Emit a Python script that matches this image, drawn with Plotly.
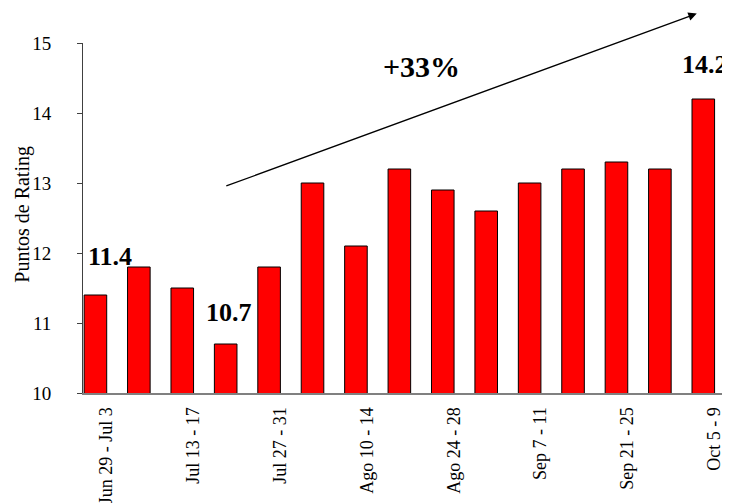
import plotly.graph_objects as go

categories = [
    "Jun 29 - Jul 3", "Jul 6 - 10", "Jul 13 - 17", "Jul 20 - 24", "Jul 27 - 31",
    "Ago 3 - 7", "Ago 10 - 14", "Ago 17 - 21", "Ago 24 - 28", "Ago 31 - Sep 4",
    "Sep 7 - 11", "Sep 14 - 18", "Sep 21 - 25", "Sep 28 - Oct 2", "Oct 5 - 9",
]
rating = [11.4, 11.8, 11.5, 10.7, 11.8, 13.0, 12.1, 13.2, 12.9, 12.6, 13.0, 13.2, 13.3, 13.2, 14.2]
y_ticks = [10, 11, 12, 13, 14, 15]
growth_label = "+33%"

FONT = "Liberation Serif, Times New Roman, serif"
idx = list(range(len(categories)))
shown = idx[::2]

fig = go.Figure()
fig.add_trace(go.Bar(
    x=idx, y=rating, width=0.52,
    marker=dict(color="#FF0000", line=dict(color="#000000", width=1)),
    hoverinfo="x+y",
))

fig.update_layout(
    width=722, height=495,
    margin=dict(l=75, r=0, t=35, b=110),
    paper_bgcolor="white", plot_bgcolor="white",
    showlegend=False,
    font=dict(family=FONT, color="black", size=18),
    xaxis=dict(
        range=[-0.286, 14.615],
        tickmode="array", tickvals=shown, ticktext=[categories[i] for i in shown],
        tickangle=-90, ticks="", showgrid=False, zeroline=False,
        showline=True, linecolor="#808080", linewidth=2,
        tickfont=dict(family=FONT, size=18, color="black"),
        ticklabelshift=11, ticklabelstandoff=5,
    ),
    yaxis=dict(
        range=[10, 15], tickmode="array", tickvals=y_ticks,
        ticks="outside", ticklen=5, tickcolor="#404040",
        showgrid=False, zeroline=False,
        showline=True, linecolor="#404040", linewidth=1,
        tickfont=dict(family=FONT, size=19, color="black"),
        ticklabelstandoff=22,
    ),
)

fig.add_annotation(xref="paper", yref="paper", x=-0.094, y=0.51,
                   text="Puntos de Rating", textangle=-90, showarrow=False,
                   font=dict(family=FONT, size=20, color="black"),
                   xanchor="center", yanchor="middle")

bold = dict(family=FONT, size=26, color="black")
fig.add_annotation(x=0.34, y=11.95, text=f"<b>{rating[0]:.1f}</b>", showarrow=False, font=bold)
fig.add_annotation(x=3.08, y=11.15, text=f"<b>{rating[3]:.1f}</b>", showarrow=False, font=bold)
fig.add_annotation(x=14.04, y=14.7, text=f"<b>{rating[14]:.1f}</b>", showarrow=False, font=bold)
fig.add_annotation(x=7.5, y=14.66, text=f"<b>{growth_label}</b>", showarrow=False,
                   font=dict(family=FONT, size=30, color="black"))

fig.add_annotation(x=13.85, y=15.42, ax=2.98, ay=12.95, xref="x", yref="y",
                   axref="x", ayref="y", text="", showarrow=True,
                   arrowhead=2, arrowsize=1.3, arrowwidth=1.3, arrowcolor="black")

fig.write_html("out.html")
